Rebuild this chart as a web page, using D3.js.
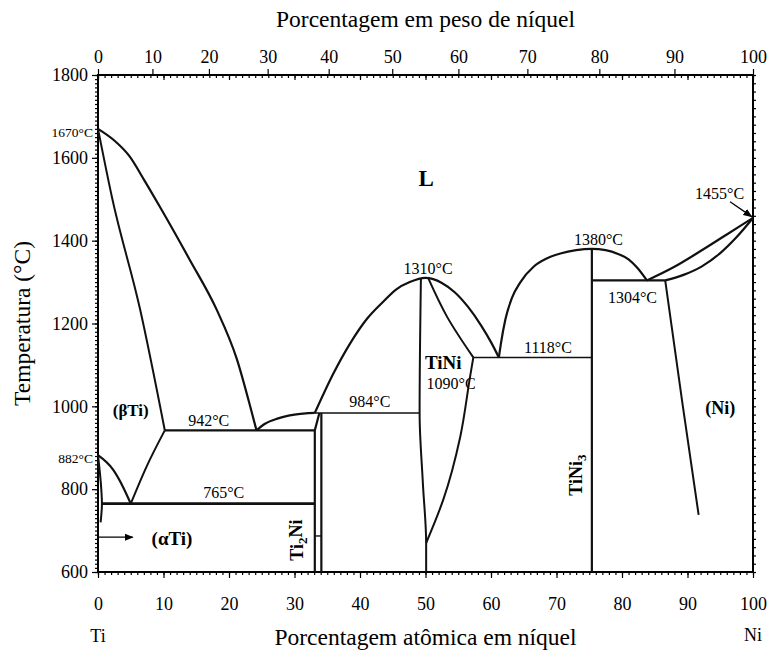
<!DOCTYPE html>
<html>
<head>
<meta charset="utf-8">
<script src="https://cdn.jsdelivr.net/npm/d3@7"></script>
<style>
  html, body { margin: 0; padding: 0; background: #fff; }
  svg { display: block; font-family: "Liberation Serif", "Times New Roman", serif; }
</style>
</head>
<body>
<svg id="chart" width="769" height="650"></svg>
<script>
// Ti–Ni equilibrium phase diagram (composition in at.% Ni, temperature in °C)

// Axis ticks
const atomicTicks = [0, 10, 20, 30, 40, 50, 60, 70, 80, 90, 100];
const weightTicks = [0, 10, 20, 30, 40, 50, 60, 70, 80, 90, 100];
const tempTicks = [600, 800, 1000, 1200, 1400, 1600, 1800];

// Atomic masses used to place the weight-percent scale
const massTi = 47.867;
const massNi = 58.693;

// Phase boundaries as [at.% Ni, °C]
const tiLiquidus = [[0, 1670], [2.4, 1643], [4.8, 1604], [7.1, 1545], [9.4, 1483], [14, 1354], [18.1, 1234], [21.2, 1114], [23.4, 990], [24.2, 942]];
const tiSolidus = [[0, 1670], [2.2, 1500], [6.4, 1236], [10.2, 942]];
const betaTransusLeft = [[0, 882], [2.3, 847], [3.8, 806], [5.0, 765]];
const betaTransusRight = [[5.0, 765], [7.4, 854], [10.2, 942]];
const alphaSolvus = [[0, 882], [0.5, 800], [0.6, 765], [0.4, 720]];
const eutectoid765 = [[0.6, 765], [33.1, 765]];
const eutectic942 = [[10.2, 942], [33.1, 942]];
const ti2NiLiquidus = [[24.2, 942], [25.5, 958], [27.5, 971], [30, 980], [33.1, 984]];
const peritectic984 = [[33.1, 984], [49.1, 984]];
const ti2NiLeft = [[33.8, 984], [33.1, 942], [33.1, 600]];
const ti2NiRight = [[34.1, 984], [34.1, 600]];
const ti2NiStep = [[33.1, 687], [34.1, 687]];
const tiNiLiquidus = [[33.1, 984], [35.9, 1078], [38.5, 1152], [41.1, 1212], [43.5, 1252], [45.5, 1282], [47.6, 1300], [50.0, 1310],
  [52.5, 1298], [54.5, 1275], [56.5, 1240], [58.5, 1195], [60.0, 1155], [61.2, 1118]];
const tiNiLeft = [[49.3, 1310], [49.1, 984], [49.6, 814], [50.1, 670], [50.1, 600]];
const tiNiSolidus = [[50.4, 1310], [53.3, 1216], [57.3, 1118]];
const tiNiSolvus = [[57.3, 1118], [56.8, 1071], [55.3, 926], [52.7, 774], [50.1, 670]];
const eutectic1118 = [[57.3, 1118], [75.4, 1118]];
const tiNi3Liquidus = [[61.2, 1118], [61.5, 1150], [62.2, 1210], [63.2, 1262], [64.5, 1300], [66.5, 1337], [68.5, 1357], [70.6, 1369],
  [73, 1377], [75.4, 1380], [77.5, 1377], [79.4, 1368], [81, 1355], [82.3, 1335], [83.8, 1304]];
const tiNi3Line = [[75.4, 1380], [75.4, 600]];
const peritectic1304 = [[75.4, 1304], [86.6, 1304]];
const niLiquidus = [[83.8, 1304], [88, 1337], [92, 1375], [96, 1415], [100, 1455]];
const niSolidus = [[86.6, 1304], [89.5, 1318], [92.2, 1338], [95, 1370], [97.4, 1407], [100, 1455]];
const niSolvus = [[86.6, 1304], [89.2, 1010], [91.7, 738]];

// Region and temperature labels as [text, at.% Ni, °C]
const regionLabels = [["L", 50.1, 1551], ["(βTi)", 5.0, 991], ["(αTi)", 11.3, 682], ["TiNi", 52.7, 1107], ["(Ni)", 95.0, 996]];
const tempLabels = [["1455°C", 94.9, 1515], ["1380°C", 76.4, 1402], ["1310°C", 50.4, 1334], ["1304°C", 81.6, 1264],
  ["1090°C", 53.9, 1056], ["1118°C", 68.7, 1143], ["942°C", 16.9, 967], ["984°C", 41.5, 1013], ["765°C", 19.2, 793]];
const edgeLabels = [["1670°C", 1670], ["882°C", 882]];

const svg = d3.select("#chart");
const margin = { left: 98, right: 16, top: 75, bottom: 78 };
const W = 769, H = 650;

const x = d3.scaleLinear().domain([0, 100]).range([margin.left, W - margin.right]);
const y = d3.scaleLinear().domain([600, 1800]).range([H - margin.bottom, margin.top]);

// weight percent Ni -> atomic percent Ni
const toAtomic = w => {
  if (w <= 0) return 0;
  if (w >= 100) return 100;
  const ni = w / massNi, ti = (100 - w) / massTi;
  return 100 * ni / (ni + ti);
};

const straight = d3.line().x(d => x(d[0])).y(d => y(d[1]));
const alongX = d3.line().x(d => x(d[0])).y(d => y(d[1])).curve(d3.curveMonotoneX);
const alongY = d3.line().x(d => x(d[0])).y(d => y(d[1])).curve(d3.curveMonotoneY);

svg.append("defs").append("marker")
  .attr("id", "arrow").attr("viewBox", "0 0 10 10").attr("refX", 9).attr("refY", 5)
  .attr("markerWidth", 7).attr("markerHeight", 7).attr("orient", "auto")
  .append("path").attr("d", "M0,1 L10,5 L0,9 Z").attr("fill", "#000");

// Axes
const yBottom = H - margin.bottom, yTop = margin.top, xLeft = margin.left, xRight = W - margin.right;

function styleAxis(g) {
  g.select(".domain").remove();
  g.selectAll("line").attr("stroke", "#000").attr("stroke-width", 1.2);
  g.selectAll("text").attr("font-family", "Liberation Serif, Times New Roman, serif").attr("font-size", 18).attr("fill", "#000");
}

// bottom: minor every 1 at.%, major every 10
svg.append("g").attr("transform", `translate(0,${yBottom})`)
  .call(d3.axisBottom(x).tickValues(d3.range(0, 101, 1)).tickSize(3).tickFormat(""))
  .call(styleAxis);
svg.append("g").attr("transform", `translate(0,${yBottom})`)
  .call(d3.axisBottom(x).tickValues(atomicTicks).tickSize(6).tickPadding(19).tickFormat(d3.format("d")))
  .call(styleAxis);

// top: at.% ticks inside, weight-percent ticks above
svg.append("g").attr("transform", `translate(0,${yTop})`)
  .call(d3.axisBottom(x).tickValues(d3.range(0, 101, 1)).tickSize(3).tickFormat(""))
  .call(styleAxis);
svg.append("g").attr("transform", `translate(0,${yTop})`)
  .call(d3.axisBottom(x).tickValues(atomicTicks).tickSize(5).tickFormat(""))
  .call(styleAxis);
svg.append("g").attr("transform", `translate(0,${yTop})`)
  .call(d3.axisTop(x).tickValues(weightTicks.map(toAtomic)).tickSize(6).tickPadding(6)
    .tickFormat((d, i) => weightTicks[i]))
  .call(styleAxis);

// left and right temperature axes
svg.append("g").attr("transform", `translate(${xLeft},0)`)
  .call(d3.axisLeft(y).tickValues(d3.range(600, 1801, 10)).tickSize(3).tickFormat(""))
  .call(styleAxis);
svg.append("g").attr("transform", `translate(${xLeft},0)`)
  .call(d3.axisLeft(y).tickValues(tempTicks).tickSize(6).tickPadding(4).tickFormat(d3.format("d")))
  .call(styleAxis);
svg.append("g").attr("transform", `translate(${xRight},0)`)
  .call(d3.axisRight(y).tickValues(d3.range(600, 1801, 20)).tickSize(3).tickFormat(""))
  .call(styleAxis);

// frame
svg.append("rect").attr("x", xLeft).attr("y", yTop).attr("width", xRight - xLeft).attr("height", yBottom - yTop)
  .attr("fill", "none").attr("stroke", "#000").attr("stroke-width", 2);

// Phase boundaries
const plot = svg.append("g").attr("fill", "none").attr("stroke", "#111").attr("stroke-linejoin", "round");
[tiLiquidus, tiNiLiquidus, tiNi3Liquidus, ti2NiLiquidus, niLiquidus, niSolidus, betaTransusLeft]
  .forEach(c => plot.append("path").attr("d", alongX(c)).attr("stroke-width", 2.2));
[tiSolidus, betaTransusRight, niSolvus]
  .forEach(c => plot.append("path").attr("d", alongX(c)).attr("stroke-width", 2));
[tiNiSolidus, tiNiSolvus, tiNiLeft, alphaSolvus]
  .forEach(c => plot.append("path").attr("d", alongY(c)).attr("stroke-width", 2));
[ti2NiLeft, ti2NiRight, tiNi3Line].forEach(c => plot.append("path").attr("d", straight(c)).attr("stroke-width", 2.2));
plot.append("path").attr("d", straight(eutectoid765)).attr("stroke-width", 2.8);
plot.append("path").attr("d", straight(eutectic942)).attr("stroke-width", 2.2);
plot.append("path").attr("d", straight(peritectic984)).attr("stroke-width", 1.6);
plot.append("path").attr("d", straight(eutectic1118)).attr("stroke-width", 1.6);
plot.append("path").attr("d", straight(peritectic1304)).attr("stroke-width", 2.2);
plot.append("path").attr("d", straight(ti2NiStep)).attr("stroke-width", 1.4);

// arrows
svg.append("line").attr("x1", x(0)).attr("y1", y(684)).attr("x2", x(5.3)).attr("y2", y(684))
  .attr("stroke", "#000").attr("stroke-width", 1.3).attr("marker-end", "url(#arrow)");
svg.append("line").attr("x1", x(96.5)).attr("y1", y(1494)).attr("x2", x(99.8)).attr("y2", y(1458))
  .attr("stroke", "#000").attr("stroke-width", 1.3).attr("marker-end", "url(#arrow)");

// Labels
const labels = svg.append("g").attr("fill", "#000");
const regionSize = { "L": 23, "(βTi)": 17, "(αTi)": 19, "TiNi": 19, "(Ni)": 18 };
regionLabels.forEach(([t, a, T]) => {
  labels.append("text").attr("x", x(a)).attr("y", y(T)).attr("dy", "0.35em")
    .attr("text-anchor", "middle").attr("font-weight", "bold")
    .attr("font-size", regionSize[t]).text(t);
});
tempLabels.forEach(([t, a, T]) => {
  labels.append("text").attr("x", x(a)).attr("y", y(T)).attr("dy", "0.35em")
    .attr("text-anchor", "middle").attr("font-size", 16).text(t);
});
edgeLabels.forEach(([t, T]) => {
  labels.append("text").attr("x", x(0) - 5).attr("y", y(T) + 3).attr("dy", "0.35em")
    .attr("text-anchor", "end").attr("font-size", 13.5).text(t);
});

// compound labels, written vertically
function compound(a, T, base, sub, tail) {
  const t = labels.append("text").attr("transform", `translate(${x(a)},${y(T)}) rotate(-90)`)
    .attr("text-anchor", "middle").attr("dy", "0.35em").attr("font-weight", "bold").attr("font-size", 18);
  t.append("tspan").text(base);
  t.append("tspan").attr("font-size", 13).attr("dy", "0.3em").text(sub);
  if (tail) t.append("tspan").attr("dy", "-0.3em").text(tail);
}
compound(30.4, 677, "Ti", "2", "Ni");
compound(73.0, 834, "TiNi", "3", "");

// Axis titles
svg.append("text").attr("x", (xLeft + xRight) / 2).attr("y", 27).attr("text-anchor", "middle")
  .attr("font-size", 23.5).text("Porcentagem em peso de níquel");
svg.append("text").attr("x", (xLeft + xRight) / 2).attr("y", 645).attr("text-anchor", "middle")
  .attr("font-size", 23.5).text("Porcentagem atômica em níquel");
svg.append("text").attr("transform", `translate(30,${(yTop + yBottom) / 2}) rotate(-90)`)
  .attr("text-anchor", "middle").attr("font-size", 23.5).text("Temperatura (°C)");
svg.append("text").attr("x", x(0)).attr("y", 642).attr("text-anchor", "middle").attr("font-size", 18).text("Ti");
svg.append("text").attr("x", x(100)).attr("y", 641).attr("text-anchor", "middle").attr("font-size", 18).text("Ni");
</script>
</body>
</html>
